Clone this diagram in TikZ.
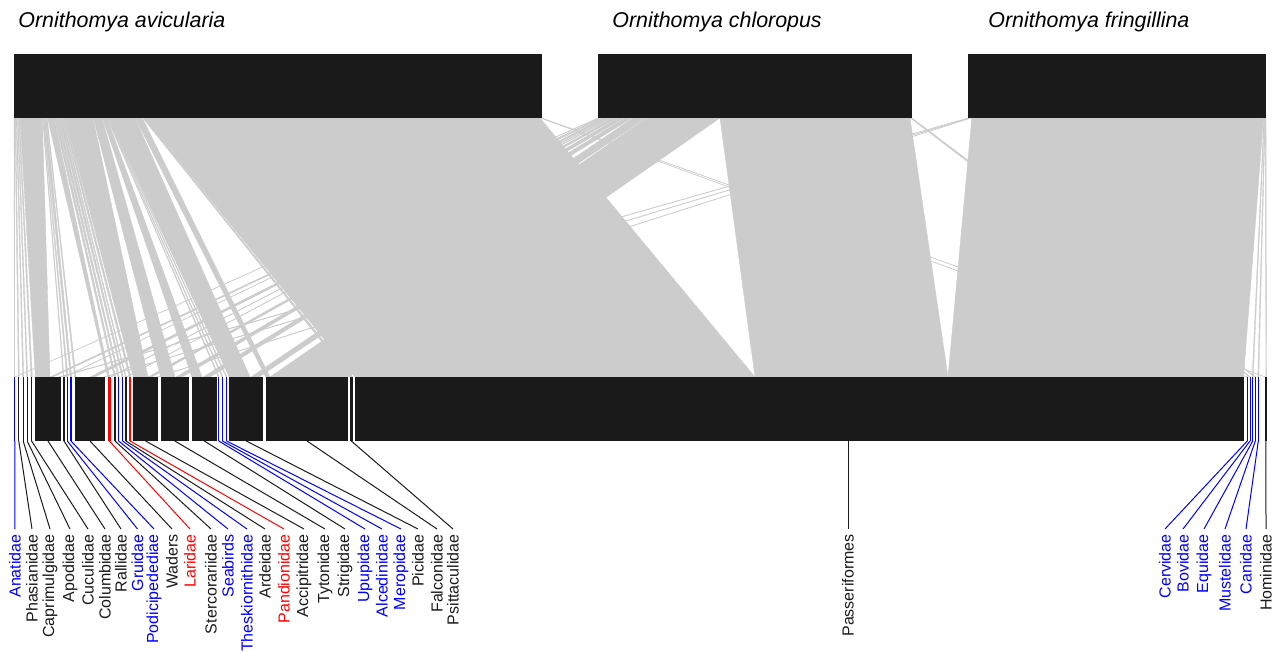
\documentclass[tikz,border=0pt]{standalone}
\usepackage{fontspec}
\setmainfont{Liberation Sans}
\usepackage{xcolor}

\definecolor{linkgray}{HTML}{CCCCCC}
\definecolor{boxblack}{HTML}{1A1A1A}
\definecolor{famblue}{HTML}{0000FF}
\definecolor{famred}{HTML}{FF0000}

\begin{document}
\begin{tikzpicture}[x=0.5pt,y=-0.5pt,
  lnk/.style={fill=linkgray,draw=linkgray,line width=0.2pt},
  lab/.style={font=\fontsize{8}{10}\selectfont,rotate=90,anchor=east,inner sep=2.5pt},
  ttl/.style={font=\fontsize{10.7}{13}\selectfont\itshape,anchor=base west,inner sep=0pt}]
\useasboundingbox (0,0) rectangle (1274,652);

% interactions
\foreach \ta/\tb/\ba/\bb in {
  14/14.6/14.3/14.8, 15/15.8/18.3/19.3, 16.2/17/22.7/23.7, 17.4/18.2/26.7/27.7,
  18.6/19.6/31/32.3, 20/42.3/35.3/50, 42.5/43/63.3/64, 43.2/43.8/66.7/68,
  44/46.4/70.3/71.7, 46.6/47.2/74.7/76, 47.5/54/107.7/109.5, 54.3/56.5/114.3/115.7,
  56.8/59/118/119.3, 59.3/61.5/122/123.3, 61.8/63/125.3/126, 63.3/65/129.3/131,
  65.3/93/133.3/148, 93.3/102/160.7/175, 102.3/107/192/202, 107.2/107.6/218.3/219.3,
  107.8/108.2/222/223, 108.4/108.8/226/227, 109/135/229.3/250, 135.3/142.4/265.7/270,
  142.8/143.4/350/352.7, 143.8/540/355/755, 540.3/540.8/1246.8/1247.8, 541.2/542/1265.3/1265.8,
  598/599/14.8/15.3, 600/602/50/53, 603/603.6/64/64.7, 604.5/608/90/95,
  609/610/110/111, 611/612/126/126.7, 613/617/148/152, 618/624/176/182,
  625/632/203/210, 633/646/251/259, 647/720/270/348.3, 720/910/755/948,
  910.3/911/1249.5/1250.5, 911.2/912/1254.8/1255.8,
  968/969/58.5/60.7, 969.3/970.3/103.5/105.3, 970.6/971.4/156.5/158,
  971.8/1263.5/948/1243.5, 1263.8/1264.4/1252.2/1253.2, 1264.6/1265.2/1257.8/1258.8,
  1265.4/1266/1265.8/1266.5}
  \path[lnk] (\ta,118) -- (\tb,118) -- (\bb,377) -- (\ba,377) -- cycle;

% flies
\fill[boxblack] (14,54) rectangle (542,118);
\fill[boxblack] (598,54) rectangle (912,118);
\fill[boxblack] (968,54) rectangle (1266,118);
\node[ttl] (tAvic) at (18,28) {Ornithomya avicularia};
\node[ttl] (tChlo) at (612,28) {Ornithomya chloropus};
\node[ttl] (tFrin) at (988,28) {Ornithomya fringillina};

% hosts
\foreach \nm/\l/\r/\c/\s/\x in {
  Anatidae/14.3/15.3/famblue/14.8/15, Phasianidae/18.3/19.3/boxblack/18.8/32,
  Caprimulgidae/22.7/23.7/boxblack/23.2/50, Apodidae/26.7/27.7/boxblack/27.2/70,
  Cuculidae/31/32.3/boxblack/31.6/88, Columbidae/35.3/60.7/boxblack/48/105,
  Rallidae/63.3/64.7/boxblack/64/121, Gruidae/66.7/68/famblue/67.3/137.5,
  Podicipedediae/70.3/71.7/famblue/71/154, Waders/74.7/105.3/boxblack/90/172,
  Laridae/107.7/111/famred/109.3/190, Stercorariidae/114.3/115.7/boxblack/115/211,
  Seabirds/118/119.3/famblue/118.6/228, Theskiornithidae/122/123.3/famblue/122.6/247,
  Ardeidae/125.3/126.7/boxblack/126/265, Pandionidae/129.3/131/famred/130.1/284,
  Accipitridae/133.3/158/boxblack/145.6/304, Tytonidae/160.7/189/boxblack/174.8/325,
  Strigidae/192/216.7/boxblack/204.3/345, Upupidae/218.3/219.3/famblue/218.8/365,
  Alcedinidae/222/223/famblue/222.5/382, Meropidae/226/227/famblue/226.5/401,
  Picidae/229.3/263.3/boxblack/246.3/418, Falconidae/265.7/348.3/boxblack/307/437,
  Psittaculidae/350/352.7/boxblack/351.3/453, Passeriformes/355/1243.5/boxblack/848/848,
  Cervidae/1246.8/1247.8/famblue/1247.3/1165, Bovidae/1249.5/1250.5/famblue/1250/1183,
  Equidae/1252.2/1253.2/famblue/1252.7/1204, Mustelidae/1254.8/1255.8/famblue/1255.3/1225,
  Canidae/1257.8/1258.8/famblue/1258.3/1246, Hominidae/1265.3/1266.5/boxblack/1265.9/1266}{
  \fill[\c] (\l,377) rectangle (\r,441);
  \coordinate (b\nm) at (\s,441);
  \node[lab,text=\c] (l\nm) at (\x,529) {\nm};
  \draw[\c,line width=0.5pt] (b\nm) -- (l\nm.east);
}

\end{tikzpicture}
\end{document}
